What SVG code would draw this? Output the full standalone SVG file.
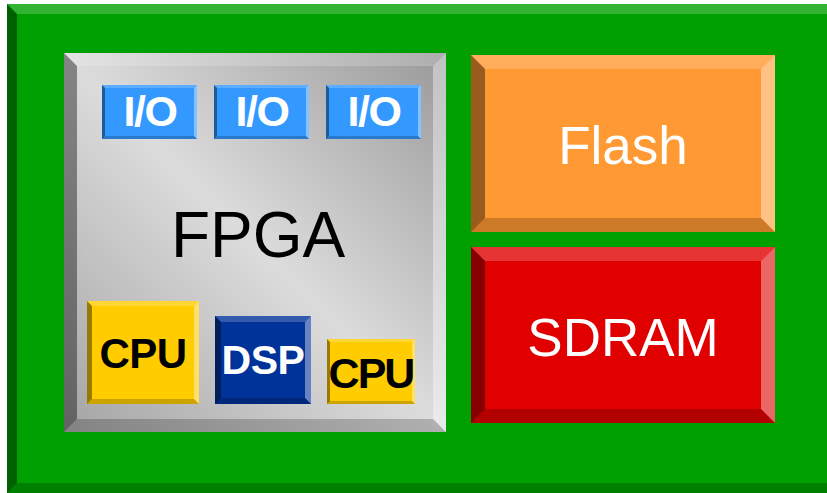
<svg xmlns="http://www.w3.org/2000/svg" width="827" height="493" viewBox="0 0 827 493">
<defs>
<linearGradient id="fpgaGrad" x1="1" y1="0" x2="0" y2="1">
<stop offset="0" stop-color="#999999"/>
<stop offset="0.5" stop-color="#dcdcdc"/>
<stop offset="1" stop-color="#a4a4a4"/>
</linearGradient>
</defs>
<style>
.bt{fill:#ffffff;fill-opacity:0.2}
.br{fill:#ffffff;fill-opacity:0.4}
.bb{fill:#000000;fill-opacity:0.2}
.bl{fill:#000000;fill-opacity:0.4}
text{font-family:"Liberation Sans",Arial,Helvetica,sans-serif;text-anchor:middle}
.lbl{font-weight:bold}
.io{fill:#3399ff}
.cpu{fill:#ffcc00}
.iot{font-size:43px;letter-spacing:-1.5px;fill:#ffffff;font-weight:bold}
</style>
<g id="board">
<rect x="7" y="4" width="830" height="489" fill="#00a000"/>
<polygon class="bt" points="7,4 837,4 827,14 17,14"/>
<polygon class="br" points="837,4 837,493 827,483 827,14"/>
<polygon class="bb" points="7,493 837,493 827,483 17,483"/>
<polygon class="bl" points="7,4 17,14 17,483 7,493"/>
</g>
<g id="fpga">
<rect x="64" y="53" width="382" height="379" fill="url(#fpgaGrad)"/>
<polygon class="bt" points="64,53 446,53 433,66 77,66"/>
<polygon class="br" points="446,53 446,432 433,419 433,66"/>
<polygon class="bb" points="64,432 446,432 433,419 77,419"/>
<polygon class="bl" points="64,53 77,66 77,419 64,432"/>
<text x="258" y="257" font-size="64" fill="#000000">FPGA</text>
</g>
<g id="io1">
<rect class="io" x="102" y="85" width="95" height="54"/>
<polygon class="bt" points="102,85 197,85 194,88 105,88"/>
<polygon class="br" points="197,85 197,139 194,136 194,88"/>
<polygon class="bb" points="102,139 197,139 194,136 105,136"/>
<polygon class="bl" points="102,85 105,88 105,136 102,139"/>
<text class="iot" x="150" y="126">I/O</text>
</g>
<g id="io2">
<rect class="io" x="214" y="85" width="95" height="54"/>
<polygon class="bt" points="214,85 309,85 306,88 217,88"/>
<polygon class="br" points="309,85 309,139 306,136 306,88"/>
<polygon class="bb" points="214,139 309,139 306,136 217,136"/>
<polygon class="bl" points="214,85 217,88 217,136 214,139"/>
<text class="iot" x="262" y="126">I/O</text>
</g>
<g id="io3">
<rect class="io" x="326" y="85" width="95" height="54"/>
<polygon class="bt" points="326,85 421,85 418,88 329,88"/>
<polygon class="br" points="421,85 421,139 418,136 418,88"/>
<polygon class="bb" points="326,139 421,139 418,136 329,136"/>
<polygon class="bl" points="326,85 329,88 329,136 326,139"/>
<text class="iot" x="374" y="126">I/O</text>
</g>
<g id="cpu1">
<rect class="cpu" x="87" y="301" width="112" height="103"/>
<polygon class="bt" points="87,301 199,301 194,306 92,306"/>
<polygon class="br" points="199,301 199,404 194,399 194,306"/>
<polygon class="bb" points="87,404 199,404 194,399 92,399"/>
<polygon class="bl" points="87,301 92,306 92,399 87,404"/>
<text class="lbl" x="143" y="368" font-size="42" letter-spacing="-0.5" fill="#000000">CPU</text>
</g>
<g id="dsp">
<rect x="215" y="316" width="96" height="88" fill="#003399"/>
<polygon class="bt" points="215,316 311,316 305,322 221,322"/>
<polygon class="br" points="311,316 311,404 305,398 305,322"/>
<polygon class="bb" points="215,404 311,404 305,398 221,398"/>
<polygon class="bl" points="215,316 221,322 221,398 215,404"/>
<text class="lbl" x="263" y="374" font-size="41" letter-spacing="-0.5" fill="#ffffff">DSP</text>
</g>
<g id="cpu2">
<rect class="cpu" x="327" y="339" width="88" height="65"/>
<polygon class="bt" points="327,339 415,339 412,342 330,342"/>
<polygon class="br" points="415,339 415,404 412,401 412,342"/>
<polygon class="bb" points="327,404 415,404 412,401 330,401"/>
<polygon class="bl" points="327,339 330,342 330,401 327,404"/>
<text class="lbl" x="371" y="388" font-size="43" letter-spacing="-2" fill="#000000">CPU</text>
</g>
<g id="flash">
<rect x="471" y="55" width="304" height="177" fill="#ff9933"/>
<polygon class="bt" points="471,55 775,55 761,69 485,69"/>
<polygon class="br" points="775,55 775,232 761,218 761,69"/>
<polygon class="bb" points="471,232 775,232 761,218 485,218"/>
<polygon class="bl" points="471,55 485,69 485,218 471,232"/>
<text x="623" y="164" font-size="53" fill="#ffffff">Flash</text>
</g>
<g id="sdram">
<rect x="471" y="247" width="304" height="176" fill="#e00000"/>
<polygon class="bt" points="471,247 775,247 761,261 485,261"/>
<polygon class="br" points="775,247 775,423 761,409 761,261"/>
<polygon class="bb" points="471,423 775,423 761,409 485,409"/>
<polygon class="bl" points="471,247 485,261 485,409 471,423"/>
<text x="623" y="356" font-size="53" fill="#ffffff">SDRAM</text>
</g>
<g id="connectors"/>
</svg>
